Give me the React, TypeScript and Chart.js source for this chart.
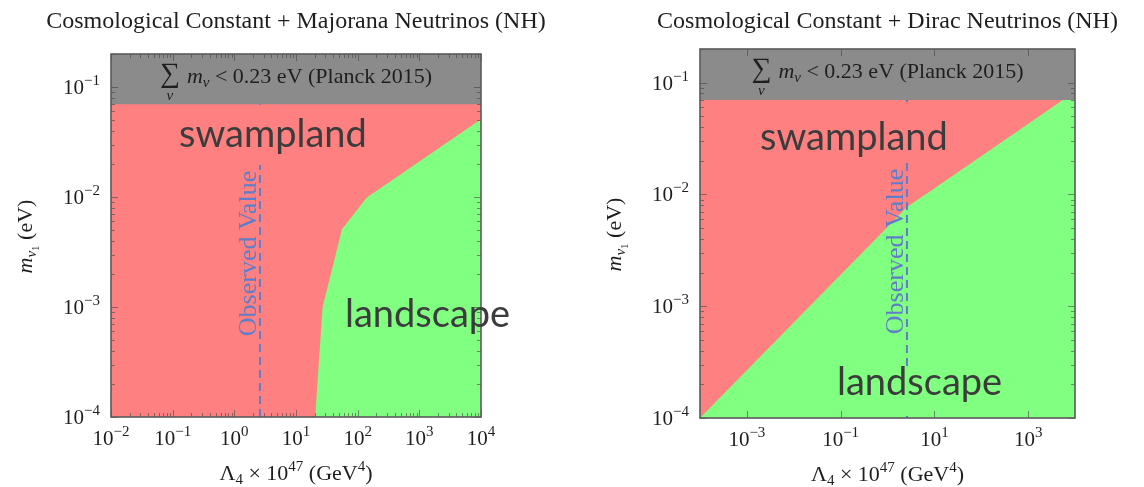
import React, { useEffect, useRef } from "react";
import { Chart, registerables } from "chart.js";

Chart.register(...registerables);

// ---------------- data ----------------
const majoranaTitle = "Cosmological Constant + Majorana Neutrinos (NH)";
const diracTitle = "Cosmological Constant + Dirac Neutrinos (NH)";

const majoranaXRange = [1e-2, 1e4];
const diracXRange = [1e-4, 1e4];
const mNu1Range = [1e-4, 0.2];

const majoranaXTickExps = [-2, -1, 0, 1, 2, 3, 4];
const diracXTickExps = [-3, -1, 1, 3];
const yTickExps = [-4, -3, -2, -1];

// boundary between swampland (above) and landscape (below / right)
const majoranaBoundaryLambda = [20.5, 27, 40.6, 55.5, 141, 10000];
const majoranaBoundaryM = [1e-4, 1e-3, 2.5e-3, 5.1e-3, 9.9e-3, 0.051];

const diracBoundaryLambda = [1e-4, 1, 2.6, 8, 5500, 10000];
const diracBoundaryM = [1e-4, 0.0051, 0.0077, 0.0106, 0.07, 0.07];

const planckMassLimit = 0.07;
const observedLambda = 2.6;

// ---------------- styles ----------------
const SERIF = '"Liberation Serif", "DejaVu Serif", serif';
const SANS = 'Lato, "Open Sans", sans-serif';
const RED = "rgb(255,128,128)";
const GREEN = "rgb(128,255,128)";
const GRAY = "rgb(139,139,139)";
const BLUE = "rgb(95,125,200)";
const LABEL = "#3c3c3c";
const TEXT = "#1e1e1e";

type Run = { t: string; size: number; dy?: number; italic?: boolean; family?: string };

function runFont(r: Run) {
  return `${r.italic ? "italic " : ""}${r.size}px ${r.family || SERIF}`;
}
function runsWidth(ctx: CanvasRenderingContext2D, runs: Run[]) {
  let w = 0;
  for (const r of runs) {
    ctx.font = runFont(r);
    w += ctx.measureText(r.t).width;
  }
  return w;
}
function drawRuns(ctx: CanvasRenderingContext2D, runs: Run[], x: number, y: number, align: "left" | "center" | "right") {
  const w = runsWidth(ctx, runs);
  let cx = align === "left" ? x : align === "center" ? x - w / 2 : x - w;
  ctx.textAlign = "left";
  ctx.textBaseline = "alphabetic";
  for (const r of runs) {
    ctx.font = runFont(r);
    ctx.fillText(r.t, cx, y + (r.dy || 0));
    cx += ctx.measureText(r.t).width;
  }
}
function powRuns(e: number): Run[] {
  const s = e < 0 ? "\u2212" + Math.abs(e) : String(e);
  return [
    { t: "10", size: 21 },
    { t: s, size: 15, dy: -9 },
  ];
}

type PanelCfg = {
  title: string;
  xRange: number[];
  xTickExps: number[];
  xMinor: boolean;
  boundaryX: number[];
  boundaryY: number[];
  padding: { left: number; right: number; top: number; bottom: number };
  swamp: { x: number; y: number; box: number[] | null };
  land: { x: number; y: number; box: number[] | null };
};

const panels: PanelCfg[] = [
  {
    title: majoranaTitle,
    xRange: majoranaXRange,
    xTickExps: majoranaXTickExps,
    xMinor: true,
    boundaryX: majoranaBoundaryLambda,
    boundaryY: majoranaBoundaryM,
    padding: { left: 111, right: 91, top: 54, bottom: 70 },
    swamp: { x: 179, y: 147, box: [172, 106, 204, 59] },
    land: { x: 345, y: 327, box: null },
  },
  {
    title: diracTitle,
    xRange: diracXRange,
    xTickExps: diracXTickExps,
    xMinor: false,
    boundaryX: diracBoundaryLambda,
    boundaryY: diracBoundaryM,
    padding: { left: 128, right: 69, top: 49, bottom: 69 },
    swamp: { x: 188, y: 150, box: [182, 102, 200, 60] },
    land: { x: 265, y: 395, box: [258, 366, 182, 50] },
  },
];

function makeDecor(cfg: PanelCfg) {
  return {
    id: "decor",
    afterDatasetsDraw(chart: any) {
      const ctx: CanvasRenderingContext2D = chart.ctx;
      const { left, right, top, bottom } = chart.chartArea;
      const xs = chart.scales.x;
      const ys = chart.scales.y;
      ctx.save();

      // observed value dashed line
      const ox = xs.getPixelForValue(observedLambda);
      ctx.strokeStyle = BLUE;
      ctx.lineWidth = 2;
      ctx.setLineDash([8, 5]);
      ctx.beginPath();
      ctx.moveTo(ox, bottom);
      ctx.lineTo(ox, ys.getPixelForValue(planckMassLimit));
      ctx.stroke();
      ctx.setLineDash([]);

      // text boxes (filled like the region under them)
      if (cfg.swamp.box) {
        ctx.fillStyle = RED;
        const b = cfg.swamp.box;
        ctx.fillRect(b[0], b[1], b[2], b[3]);
      }
      if (cfg.land.box) {
        ctx.fillStyle = GREEN;
        const b = cfg.land.box;
        ctx.fillRect(b[0], b[1], b[2], b[3]);
      }

      // ticks
      ctx.strokeStyle = "rgba(60,60,60,0.55)";
      ctx.lineWidth = 1;
      ctx.beginPath();
      const major = 7;
      const minor = 4;
      for (let e = -5; e <= 1; e++) {
        for (let k = 1; k <= 9; k++) {
          const v = k * Math.pow(10, e);
          if (v < ys.min * 0.999 || v > ys.max * 1.001) continue;
          const len = k === 1 ? major : minor;
          const py = Math.round(ys.getPixelForValue(v)) + 0.5;
          ctx.moveTo(left, py);
          ctx.lineTo(left + len, py);
          ctx.moveTo(right, py);
          ctx.lineTo(right - len, py);
        }
      }
      for (let e = -6; e <= 5; e++) {
        for (let k = 1; k <= 9; k++) {
          const v = k * Math.pow(10, e);
          if (v < xs.min * 0.999 || v > xs.max * 1.001) continue;
          const isMajor = k === 1 && cfg.xTickExps.includes(e);
          if (!isMajor && !(cfg.xMinor && k > 1)) continue;
          const len = isMajor ? major : minor;
          const px = Math.round(xs.getPixelForValue(v)) + 0.5;
          ctx.moveTo(px, bottom);
          ctx.lineTo(px, bottom - len);
          ctx.moveTo(px, top);
          ctx.lineTo(px, top + len);
        }
      }
      ctx.stroke();

      // frame
      ctx.strokeStyle = "#5a5a5a";
      ctx.lineWidth = 1.6;
      ctx.strokeRect(left, top, right - left, bottom - top);

      // sum annotation in the Planck band
      const cx = (left + right) / 2;
      const tb = (top + ys.getPixelForValue(planckMassLimit)) / 2 + 4;
      const textRuns: Run[] = [
        { t: "m", size: 22, italic: true },
        { t: "\u03bd", size: 15, italic: true, dy: 4 },
        { t: " < 0.23 eV (Planck 2015)", size: 22 },
      ];
      ctx.fillStyle = TEXT;
      ctx.font = `28px ${SERIF}`;
      const sigW = ctx.measureText("\u2211").width;
      const tw = runsWidth(ctx, textRuns);
      const gap = 7;
      const total = sigW + gap + tw;
      const sx = cx - total / 2;
      ctx.font = `28px ${SERIF}`;
      ctx.textAlign = "left";
      ctx.textBaseline = "alphabetic";
      ctx.fillText("\u2211", sx, tb - 1);
      ctx.font = `italic 15px ${SERIF}`;
      ctx.textAlign = "center";
      ctx.fillText("\u03bd", sx + sigW / 2, tb + 17);
      drawRuns(ctx, textRuns, sx + sigW + gap, tb, "left");

      ctx.restore();
    },
    afterDraw(chart: any) {
      const ctx: CanvasRenderingContext2D = chart.ctx;
      const { left, right, top, bottom } = chart.chartArea;
      const xs = chart.scales.x;
      const ys = chart.scales.y;
      ctx.save();

      // region labels (on top of the frame)
      ctx.fillStyle = LABEL;
      ctx.font = `38px ${SANS}`;
      ctx.textAlign = "left";
      ctx.textBaseline = "alphabetic";
      ctx.fillText("swampland", cfg.swamp.x, cfg.swamp.y);
      ctx.fillText("landscape", cfg.land.x, cfg.land.y);

      // observed value label
      const ox = xs.getPixelForValue(observedLambda);
      ctx.save();
      ctx.translate(ox - 4, (top + bottom) / 2 + 18);
      ctx.rotate(-Math.PI / 2);
      ctx.fillStyle = BLUE;
      ctx.font = `26px ${SERIF}`;
      ctx.textAlign = "center";
      ctx.fillText("Observed Value", 0, 0);
      ctx.restore();

      ctx.fillStyle = TEXT;
      // y tick labels
      for (const e of yTickExps) {
        const py = ys.getPixelForValue(Math.pow(10, e));
        drawRuns(ctx, powRuns(e), left - 11, py + 7, "right");
      }
      // x tick labels
      for (const e of cfg.xTickExps) {
        const px = xs.getPixelForValue(Math.pow(10, e));
        drawRuns(ctx, powRuns(e), px, bottom + 28, "center");
      }
      const pcx = (left + right) / 2;
      // x title
      drawRuns(
        ctx,
        [
          { t: "\u039b", size: 22 },
          { t: "4", size: 15, dy: 4 },
          { t: " \u00d7 10", size: 22 },
          { t: "47", size: 15, dy: -9 },
          { t: " (GeV", size: 22 },
          { t: "4", size: 15, dy: -9 },
          { t: ")", size: 22 },
        ],
        pcx,
        bottom + 63,
        "center"
      );
      // y title
      ctx.save();
      ctx.translate(left - 79, (top + bottom) / 2 + 1);
      ctx.rotate(-Math.PI / 2);
      drawRuns(
        ctx,
        [
          { t: "m", size: 22, italic: true },
          { t: "\u03bd", size: 15, italic: true, dy: 4 },
          { t: "1", size: 11, dy: 7 },
          { t: " (eV)", size: 22 },
        ],
        0,
        0,
        "center"
      );
      ctx.restore();
      // title
      ctx.font = `24px ${SERIF}`;
      ctx.textAlign = "center";
      ctx.textBaseline = "alphabetic";
      ctx.fillText(cfg.title, pcx, 28);
      ctx.restore();
    },
  };
}

function ChartPanel({ cfg, offset }: { cfg: PanelCfg; offset: number }) {
  const ref = useRef<HTMLCanvasElement>(null);
  useEffect(() => {
    const pts = (xa: number[], ya: number[]) => xa.map((x, i) => ({ x, y: ya[i] }));
    const common = {
      borderColor: "rgba(0,0,0,0)",
      borderWidth: 0,
      pointRadius: 0,
      tension: 0,
      fill: "start",
    };
    const chart = new Chart(ref.current as HTMLCanvasElement, {
      type: "line",
      data: {
        datasets: [
          { ...common, label: "landscape", data: pts(cfg.boundaryX, cfg.boundaryY), backgroundColor: GREEN, order: 0 },
          {
            ...common,
            label: "swampland",
            data: pts(cfg.xRange, [planckMassLimit, planckMassLimit]),
            backgroundColor: RED,
            order: 1,
          },
          {
            ...common,
            label: "Planck 2015",
            data: pts(cfg.xRange, [mNu1Range[1], mNu1Range[1]]),
            backgroundColor: GRAY,
            order: 2,
          },
        ] as any,
      },
      options: {
        responsive: false,
        maintainAspectRatio: false,
        animation: false,
        events: [],
        layout: { padding: cfg.padding },
        plugins: { legend: { display: false }, tooltip: { enabled: false } },
        scales: {
          x: { type: "logarithmic", min: cfg.xRange[0], max: cfg.xRange[1], display: false },
          y: { type: "logarithmic", min: mNu1Range[0], max: mNu1Range[1], display: false },
        },
      } as any,
      plugins: [makeDecor(cfg)],
    });
    return () => chart.destroy();
  }, [cfg]);
  return (
    <canvas
      ref={ref}
      width={572}
      height={487}
      style={{ position: "absolute", left: offset, top: 0, width: 572, height: 487 }}
    />
  );
}

export default function App() {
  return (
    <div style={{ position: "absolute", left: 0, top: 0, width: 1144, height: 487, background: "#fff" }}>
      <ChartPanel cfg={panels[0]} offset={0} />
      <ChartPanel cfg={panels[1]} offset={572} />
    </div>
  );
}
